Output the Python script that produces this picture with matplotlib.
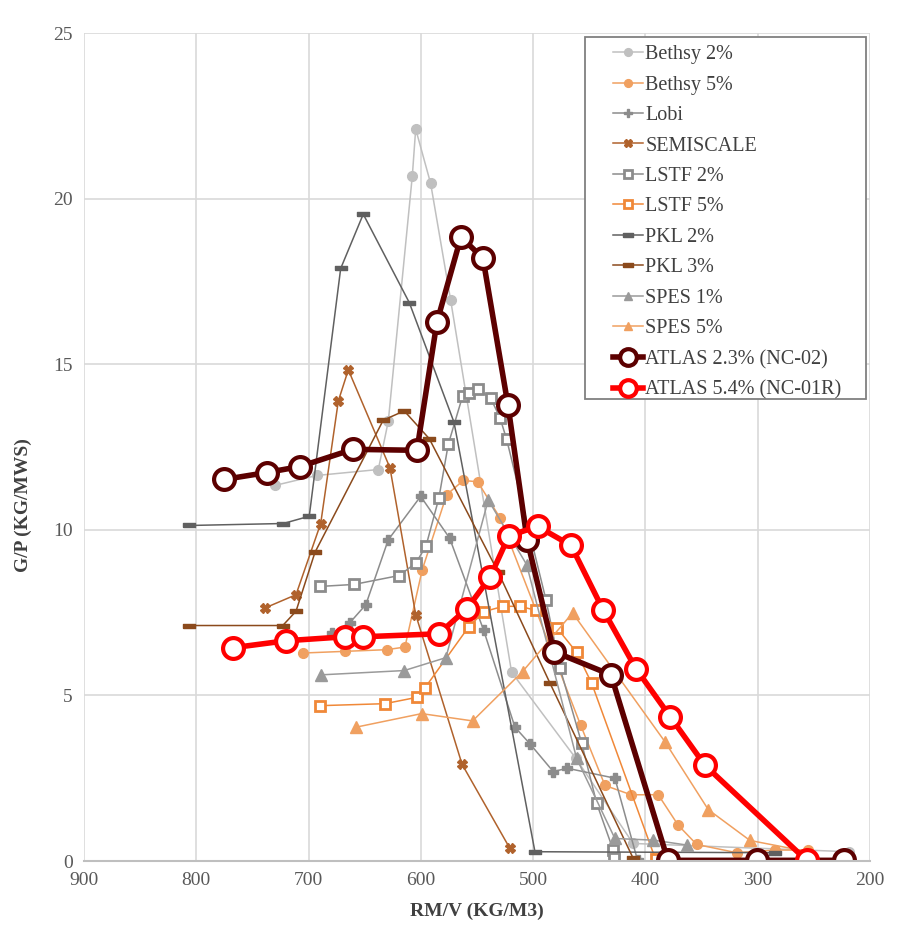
import numpy as np
import matplotlib
matplotlib.use("Agg")
import matplotlib.pyplot as plt
from matplotlib.patches import Rectangle

plt.rcParams["font.family"] = ["Liberation Serif", "DejaVu Serif"]

# ---- data ----
bethsy2_x = [729.9, 692.8, 637.9, 629.0, 607.6, 604.6, 591.3, 573.5, 519.2, 462.0, 411.0, 219.0]
bethsy2_y = [11.34, 11.64, 11.82, 13.28, 20.69, 22.10, 20.46, 16.94, 5.70, 3.10, 0.53, 0.28]

bethsy5_x = [704.7, 667.6, 630.5, 614.2, 598.8, 577.0, 562.2, 549.4, 529.3, 457.8, 436.0,
             412.8, 388.6, 370.8, 354.4, 318.8, 284.7, 255.0]
bethsy5_y = [6.28, 6.33, 6.38, 6.46, 8.79, 11.06, 11.49, 11.45, 10.35, 4.11, 2.28,
             2.00, 2.00, 1.08, 0.50, 0.25, 0.33, 0.33]

lobi_x = [679.4, 663.1, 649.0, 629.0, 600.2, 574.4, 544.0, 516.2, 502.9, 482.1, 469.6, 427.2, 407.0]
lobi_y = [6.88, 7.20, 7.74, 9.70, 11.01, 9.75, 6.96, 4.04, 3.54, 2.70, 2.80, 2.50, 0.02]

semi_x = [738.8, 711.2, 689.2, 673.5, 664.6, 627.5, 604.6, 563.3, 520.7]
semi_y = [7.64, 8.04, 10.19, 13.89, 14.83, 11.87, 7.44, 2.92, 0.38]

lstf2_x = [689.8, 659.6, 619.2, 604.4, 595.5, 584.0, 575.6, 562.8, 556.9, 548.9, 537.8,
           529.6, 523.6, 488.6, 476.0, 456.8, 443.4, 428.7, 428.0]
lstf2_y = [8.29, 8.35, 8.62, 9.00, 9.50, 10.95, 12.58, 14.04, 14.14, 14.24, 13.97,
           13.39, 12.73, 7.89, 5.82, 3.56, 1.74, 0.33, 0.08]

lstf5_x = [689.8, 632.0, 603.8, 596.5, 557.4, 543.7, 526.6, 511.8, 497.8, 478.6, 461.3, 447.9, 391.0]
lstf5_y = [4.69, 4.75, 4.94, 5.22, 7.07, 7.53, 7.69, 7.69, 7.57, 7.03, 6.30, 5.37, 0.05]

pkl2_x = [806.5, 722.5, 699.4, 671.4, 651.3, 610.3, 570.5, 498.4, 285.0]
pkl2_y = [10.13, 10.19, 10.41, 17.89, 19.53, 16.86, 13.25, 0.28, 0.25]

pkl3_x = [806.5, 723.0, 711.2, 694.3, 633.5, 614.8, 592.5, 531.1, 485.0, 410.9]
pkl3_y = [7.11, 7.11, 7.54, 9.32, 13.31, 13.59, 12.75, 8.72, 5.37, 0.08]

spes1_x = [689.2, 614.8, 577.7, 540.0, 505.8, 461.3, 427.2, 393.0, 362.8]
spes1_y = [5.62, 5.75, 6.14, 10.90, 8.95, 3.10, 0.68, 0.63, 0.48]

spes5_x = [657.8, 599.3, 553.9, 509.4, 464.9, 382.6, 344.0, 306.9, 255.0]
spes5_y = [4.04, 4.45, 4.23, 5.72, 7.49, 3.60, 1.55, 0.62, 0.28]

atlas2_x = [775.3, 737.0, 707.7, 660.5, 603.5, 585.7, 564.3, 544.7, 522.4, 505.4,
            481.5, 430.7, 380.0, 300.5, 222.8]
atlas2_y = [11.52, 11.73, 11.91, 12.43, 12.40, 16.27, 18.84, 18.20, 13.76, 9.70,
            6.32, 5.62, 0.02, 0.02, 0.02]

atlas5_x = [767.3, 720.0, 667.6, 651.6, 584.0, 558.9, 538.5, 521.6, 496.0, 466.3,
            437.8, 408.5, 377.8, 347.0, 256.5]
atlas5_y = [6.44, 6.65, 6.77, 6.77, 6.86, 7.62, 8.56, 9.82, 10.10, 9.53,
            7.59, 5.81, 4.35, 2.89, 0.02]

# horizontal bar marker used by the PKL series
bar = [(-1, -0.38), (1, -0.38), (1, 0.38), (-1, 0.38), (-1, -0.38)]

W, H = 912, 951
fig = plt.figure(figsize=(W / 100, H / 100), dpi=100)
ax = fig.add_axes([84 / W, 1 - 861 / H, 786 / W, 828 / H])

thin = dict(linewidth=1.1)
ax.plot(bethsy2_x, bethsy2_y, color="#c0c0c0", marker="o", markersize=7,
        label="Bethsy 2%", **thin)
ax.plot(bethsy5_x, bethsy5_y, color="#f0a060", marker="o", markersize=7,
        label="Bethsy 5%", **thin)
ax.plot(lobi_x, lobi_y, color="#8c8c8c", marker="P", markersize=7,
        label="Lobi", **thin)
ax.plot(semi_x, semi_y, color="#b0622c", marker="X", markersize=7,
        label="SEMISCALE", **thin)
ax.plot(lstf2_x, lstf2_y, color="#8c8c8c", marker="s", markersize=7,
        markerfacecolor="white", markeredgewidth=2, label="LSTF 2%", **thin)
ax.plot(lstf5_x, lstf5_y, color="#f08838", marker="s", markersize=7,
        markerfacecolor="white", markeredgewidth=2, label="LSTF 5%", **thin)
ax.plot(pkl2_x, pkl2_y, color="#606060", marker=bar, markersize=9,
        label="PKL 2%", **thin)
ax.plot(pkl3_x, pkl3_y, color="#8b4a1c", marker=bar, markersize=9,
        label="PKL 3%", **thin)
ax.plot(spes1_x, spes1_y, color="#9a9a9a", marker="^", markersize=8,
        label="SPES 1%", **thin)
ax.plot(spes5_x, spes5_y, color="#f0a060", marker="^", markersize=8,
        label="SPES 5%", **thin)
ax.plot(atlas2_x, atlas2_y, color="#5c0000", linewidth=4, marker="o", markersize=15,
        markerfacecolor="white", markeredgewidth=3, label="ATLAS 2.3% (NC-02)")
ax.plot(atlas5_x, atlas5_y, color="#ff0000", linewidth=4, marker="o", markersize=15,
        markerfacecolor="white", markeredgewidth=3, label="ATLAS 5.4% (NC-01R)")

ax.set_xlim(900, 200)
ax.set_ylim(0, 25)
ax.set_xticks(np.arange(900, 199, -100))
ax.set_yticks(np.arange(0, 26, 5))
ax.grid(True, color="#d9d9d9", linewidth=1.2)
ax.set_axisbelow(True)
for side in ["left", "right", "top"]:
    ax.spines[side].set_visible(False)
ax.spines["bottom"].set_color("#bfbfbf")
ax.spines["bottom"].set_linewidth(1.5)
ax.tick_params(length=0, labelsize=14, labelcolor="#595959", pad=8)

ax.set_xlabel("RM/V (KG/M3)", fontsize=14, fontweight="bold", color="#404040", labelpad=10)
ax.set_ylabel("G/P (KG/MWS)", fontsize=14, fontweight="bold", color="#404040")
ax.yaxis.set_label_coords((32 - 84) / 786, 0.43)

# legend box drawn separately so its padding matches the reference
box = Rectangle((585 / W, 1 - 399 / H), 281 / W, 362 / H,
                transform=fig.transFigure, facecolor="white",
                edgecolor="#808080", linewidth=1.3, zorder=5, clip_on=False)
ax.add_patch(box)
leg = ax.legend(loc="upper left", bbox_to_anchor=(613 / W, 1 - 45 / H),
                bbox_transform=fig.transFigure, fontsize=14.5, frameon=False,
                handlelength=1.5, handletextpad=0.1, labelspacing=0.565,
                borderpad=0, borderaxespad=0, markerscale=0.8)
leg.set_zorder(6)
for t in leg.get_texts():
    t.set_color("#404040")

fig.savefig("out.png", dpi=100)
